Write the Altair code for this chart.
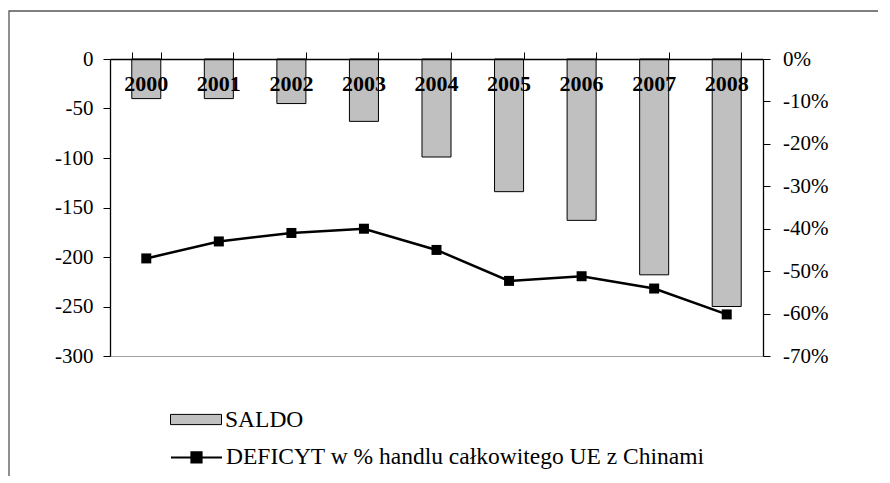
import altair as alt
import pandas as pd

years = ["2000", "2001", "2002", "2003", "2004", "2005", "2006", "2007", "2008"]
saldo = [-40, -40, -45, -63, -99, -134, -163, -218, -250]
deficyt_pct = [-47, -43, -41, -40, -45, -52.3, -51.2, -54.1, -60.2]

label_bar = "SALDO"
label_line = "DEFICYT w % handlu całkowitego UE z Chinami"

df = pd.DataFrame({
    "rok": years,
    "saldo": saldo,
    "deficyt": [v / 100 for v in deficyt_pct],
    "s1": label_bar,
    "s2": label_line,
})

FONT = "Liberation Serif"

x_enc = alt.X(
    "rok:N",
    sort=years,
    scale=alt.Scale(paddingInner=0.6, paddingOuter=0.3),
    axis=alt.Axis(orient="top", labels=False, title=None, domainColor="black",
                  tickColor="black", tickSize=7, tickBand="extent", zindex=1, grid=False),
)

base = alt.Chart(df)

border = base.mark_rect(fillOpacity=0, stroke="#555555", strokeWidth=1.3).encode(
    x=alt.value(-101), x2=alt.value(900), y=alt.value(-48), y2=alt.value(700)
).transform_filter("datum.rok == '2000'")

bars = base.mark_bar(stroke="black", strokeWidth=1).encode(
    x=x_enc,
    y=alt.Y("saldo:Q", scale=alt.Scale(domain=[-300, 0], nice=False),
            axis=alt.Axis(orient="left", title=None, values=[0, -50, -100, -150, -200, -250, -300],
                          labelExpr="(datum.value < 0 ? '-' : '') + abs(datum.value)",
                          labelFont=FONT, labelFontSize=21, labelColor="black",
                          tickSize=7, labelPadding=10, grid=False, zindex=1)),
    fill=alt.Fill("s1:N", scale=alt.Scale(domain=[label_bar], range=["#c0c0c0"]),
                  legend=alt.Legend(title=None, orient="none", legendX=60, legendY=334.5,
                                    symbolType="M-1,-0.2H1V0.2H-1Z", symbolSize=2601,
                                    symbolStrokeColor="black", symbolStrokeWidth=1,
                                    labelFont=FONT, labelFontSize=23.5, labelColor="black",
                                    labelOffset=3, labelLimit=800, padding=0)),
)

y_line = alt.Y("deficyt:Q", scale=alt.Scale(domain=[-0.7, 0], nice=False),
               axis=alt.Axis(orient="right", title=None,
                             values=[0, -0.1, -0.2, -0.3, -0.4, -0.5, -0.6, -0.7],
                             labelExpr="(datum.value < 0 ? '-' : '') + round(abs(datum.value) * 100) + '%'",
                             labelFont=FONT, labelFontSize=21, labelColor="black",
                             tickSize=7, labelPadding=12.5, grid=False, zindex=1))

line = base.mark_line(strokeWidth=2.5).encode(
    x=x_enc,
    y=y_line,
    stroke=alt.Stroke("s2:N", scale=alt.Scale(domain=[label_line], range=["black"]),
                      legend=alt.Legend(title=None, orient="none", legendX=60, legendY=371.9,
                                        symbolType="M-1,0H1M-0.2,-0.2H0.2V0.2H-0.2Z",
                                        symbolSize=2601, symbolStrokeWidth=2,
                                        symbolFillColor="black", symbolStrokeColor="black",
                                        labelFont=FONT, labelFontSize=23.5, labelColor="black",
                                        labelOffset=3, labelLimit=800, padding=0)),
)

points = base.mark_point(shape="square", size=100, filled=True, color="black", opacity=1).encode(
    x=x_enc,
    y=y_line,
)

line_layer = alt.layer(line, points)

labels = base.mark_text(font=FONT, fontWeight="bold", fontSize=22, color="black").encode(
    x=x_enc,
    y=alt.value(24.5),
    text="rok:N",
)

chart = alt.layer(border, bars, line_layer, labels).resolve_scale(
    y="independent"
).properties(
    width=653,
    height=297,
    autosize="none",
    padding={"left": 102, "top": 51, "right": 115, "bottom": 120},
    background="white",
).configure_view(
    stroke="#a0a0a0", strokeWidth=1
).configure_axis(
    labelFont=FONT, labelFontSize=21, labelColor="black",
    domainColor="black", tickColor="black", domainWidth=1.3, tickWidth=1
)

chart.save("out.html", embed_options={"renderer": "svg", "actions": False})
